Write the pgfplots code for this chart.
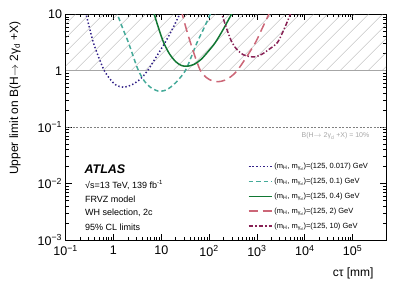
\documentclass[border=0pt]{standalone}
\usepackage{pgfplots}
\pgfplotsset{compat=1.18}
\usepackage{fontspec}
\setmainfont{Liberation Sans}
\usetikzlibrary{patterns.meta}
\definecolor{cblue}{HTML}{332288}
\definecolor{cteal}{HTML}{44AA99}
\definecolor{cgreen}{HTML}{117733}
\definecolor{cpink}{HTML}{CC6677}
\definecolor{cmag}{HTML}{882255}
\begin{document}
\begin{tikzpicture}
\useasboundingbox (-65.6pt,-49pt) rectangle (341.4pt,240pt);
\begin{axis}[
  at={(0,0)}, anchor=south west,
  scale only axis, width=320.4pt, height=225.7pt,
  xmode=log, ymode=log,
  xmin=0.1, xmax=5e5, ymin=1e-3, ymax=10,
  axis line style={line width=0.8pt},
  major tick length=6pt, minor tick length=3pt,
  every tick/.style={black, line width=0.6pt},
  xtick={0.1,1,10,100,1000,10000,100000},
  xticklabels={10\textsuperscript{−1},1,10,10\textsuperscript{2},10\textsuperscript{3},10\textsuperscript{4},10\textsuperscript{5}},
  ytick={0.001,0.01,0.1,1,10},
  yticklabels={10\textsuperscript{−3},10\textsuperscript{−2},10\textsuperscript{−1},1,10},
  tick label style={font=\fontsize{12.5}{14}\selectfont},
  xticklabel style={yshift=-2pt},
  xlabel={cτ [mm]},
  ylabel={Upper limit on B(H$\rightarrow$ 2γ\textsubscript{d} +X)},
  label style={font=\fontsize{12}{14}\selectfont},
  xlabel style={at={(axis description cs:0.972,-0.146)}, anchor=east},
  ylabel style={at={(axis description cs:-0.158,0.984)}, anchor=east},
  legend style={draw=none, fill=none, at={(rel axis cs:0.96,0.36)}, anchor=north east,
    font=\fontsize{7.5}{9}\selectfont, row sep=4pt},
  legend cell align=left,
  legend image code/.code={\draw[mark repeat=2,mark phase=2,#1] plot coordinates {(0pt,0pt) (11.5pt,0pt) (23pt,0pt)};},
  clip=true,
]
\addplot[draw=none, forget plot, pattern={Lines[angle=45,distance=10.5pt,line width=0.4pt]}, pattern color=black!45]
  coordinates {(0.1,1) (5e5,1) (5e5,10) (0.1,10)} -- cycle;
\addplot[gray!70, line width=0.7pt, forget plot] coordinates {(0.1,1) (5e5,1)};
\addplot[gray, line width=0.5pt, dash pattern=on 2pt off 1.5pt, forget plot] coordinates {(0.1,0.1) (5e5,0.1)};
% 0.017
\addplot[color=cblue, line width=1.5pt, dash pattern=on 1.4pt off 2.2pt, smooth] coordinates {
(0.251,12.6) (0.268,10) (0.316,5.75) (0.380,3.16) (0.501,1.66) (0.646,1.0) (0.851,0.71) (1.12,0.56) (1.62,0.51) (2.40,0.56) (3.63,0.71) (5.16,1.0) (7.94,1.78) (12.0,3.16) (17.4,5.62) (24.2,10) (26.9,12)};
\addlegendentry{(m\textsubscript{H}, m\textsubscript{γ\textsubscript{d}})=(125, 0.017) GeV}
% 0.1
\addplot[color=cteal, line width=1.5pt, dash pattern=on 4.5pt off 3pt, smooth] coordinates {
(1.12,12) (1.21,10) (1.58,5.5) (2.06,3.16) (2.63,1.74) (3.34,1.0) (4.47,0.65) (6.31,0.49) (9.53,0.43) (14.1,0.48) (21.4,0.65) (31.8,1.0) (42.7,1.78) (56.0,3.16) (77.6,5.62) (106,10) (115,11.7)};
\addlegendentry{(m\textsubscript{H}, m\textsubscript{γ\textsubscript{d}})=(125, 0.1) GeV}
% 0.4
\addplot[color=cgreen, line width=1.5pt, solid, smooth] coordinates {
(6.6,12) (7.13,10) (8.9,5.5) (11.2,3.16) (14.8,2.0) (20.0,1.45) (26.3,1.24) (34.6,1.2) (47.9,1.29) (67.6,1.58) (95.5,2.19) (135,3.16) (200,5.5) (293,10) (316,11.5)};
\addlegendentry{(m\textsubscript{H}, m\textsubscript{γ\textsubscript{d}})=(125, 0.4) GeV}
% 2
\addplot[color=cpink, line width=1.5pt, dash pattern=on 9pt off 5pt, smooth] coordinates {
(25.7,12) (27.5,10) (33.1,5.62) (40.7,3.16) (51.3,1.74) (66.1,1.0) (87.1,0.76) (117,0.66) (158,0.64) (214,0.68) (288,0.79) (386,1.0) (603,1.74) (933,3.16) (1288,5.62) (1778,10) (1950,11.7)};
\addlegendentry{(m\textsubscript{H}, m\textsubscript{γ\textsubscript{d}})=(125, 2) GeV}
% 10
\addplot[color=cmag, line width=1.5pt, dash pattern=on 4.5pt off 2pt on 1.4pt off 2pt, smooth] coordinates {
(174,12) (186,10) (234,5.5) (302,3.16) (398,2.29) (525,1.91) (708,1.78) (933,1.77) (1259,1.95) (1862,2.45) (2692,3.16) (3715,5.5) (5012,10) (5495,12)};
\addlegendentry{(m\textsubscript{H}, m\textsubscript{γ\textsubscript{d}})=(125, 10) GeV}
\node[anchor=east, text=gray!70, font=\fontsize{7}{8}\selectfont] at (rel axis cs:0.959,0.46) {B(H$\rightarrow$ 2γ\textsubscript{d} +X) = 10\%};
\node[anchor=west, font=\fontsize{12.5}{14}\selectfont\bfseries\itshape] at (rel axis cs:0.048,0.315) {ATLAS};
\node[anchor=west, font=\fontsize{9}{10}\selectfont] at (rel axis cs:0.05,0.244) {√s=13 TeV, 139 fb\textsuperscript{-1}};
\node[anchor=west, font=\fontsize{9}{10}\selectfont] at (rel axis cs:0.05,0.182) {FRVZ model};
\node[anchor=west, font=\fontsize{9}{10}\selectfont] at (rel axis cs:0.05,0.120) {WH selection, 2c};
\node[anchor=west, font=\fontsize{9}{10}\selectfont] at (rel axis cs:0.05,0.056) {95\% CL limits};
\end{axis}
\end{tikzpicture}
\end{document}
